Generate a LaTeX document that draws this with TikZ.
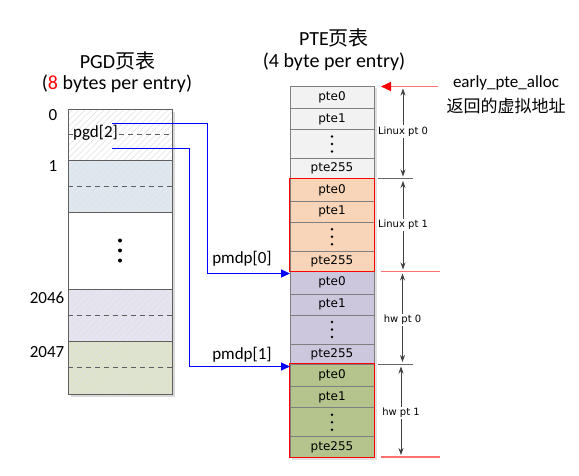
\documentclass[tikz,border=0pt]{standalone}
\usepackage{fontspec}
\setmainfont{Carlito}
\newfontfamily\dejavu{DejaVu Sans}
\newfontfamily\cjk{Noto Sans CJK SC}
\usetikzlibrary{arrows.meta,patterns.meta}
\definecolor{pteA}{HTML}{F2F2F2}
\definecolor{pteB}{HTML}{F8D5B8}
\definecolor{pteC}{HTML}{CDC7DE}
\definecolor{pteD}{HTML}{B4C48C}
\definecolor{pgdA}{HTML}{FFFFFF}
\definecolor{pgdB}{HTML}{DFE8F0}
\definecolor{pgdC}{HTML}{E6E4F0}
\definecolor{pgdD}{HTML}{DEE3CC}
\definecolor{rowline}{HTML}{7F7F7F}
\definecolor{pgdline}{HTML}{5F5F5F}
\definecolor{lightred}{HTML}{FF7070}
\definecolor{dimcol}{HTML}{404040}
\definecolor{linkblue}{HTML}{0000FF}
\tikzset{
  title/.style={font=\fontsize{20}{24}\selectfont, inner sep=0pt},
  lbl/.style={font=\fontsize{17}{20}\selectfont, inner sep=0pt},
  pterow/.style={draw=rowline, line width=0.8pt, minimum width=84pt, inner sep=0pt,
    font=\dejavu\fontsize{12}{14}\selectfont},
  pgdrow/.style={draw=pgdline, line width=0.8pt, minimum width=104pt, inner sep=0pt,
    preaction={fill=#1}, pattern={Lines[angle=45,distance=4.5pt,line width=0.5pt]},
    pattern color=black!12},
  midline/.style={draw=pgdline, line width=0.8pt, dash pattern=on 5pt off 4pt},
  side/.style={font=\dejavu\fontsize{10}{12}\selectfont, fill=white, inner sep=1.5pt},
  dimarrow/.style={draw=dimcol, line width=0.7pt, {Stealth[length=7pt,width=5pt]}-{Stealth[length=7pt,width=5pt]}},
  bluelink/.style={draw=linkblue, line width=1.2pt, -{Triangle[length=9pt,width=8pt]}},
  tickgray/.style={draw=dimcol!80, line width=0.7pt},
  tickred/.style={draw=lightred, line width=1.2pt}
}
\begin{document}
\begin{tikzpicture}[x=1pt,y=-1pt]
\useasboundingbox (0,0) rectangle (579,475);

% ---------- titles ----------
\node[title] (pgdt) at (117.5,61) {PGD{\cjk 页表}};
\node[title] (pgds) at (117,84) {(\textcolor{red}{8} bytes per entry)};
\node[title] (ptet) at (334,38) {PTE{\cjk 页表}};
\node[title] (ptes) at (334,62) {(4 byte per entry)};

% ---------- PGD table ----------
\fill[black!15] (71,112) rectangle (175,397);
\node[pgdrow=pgdA, minimum height=51.5pt] (p0) at (120,134.75) {};
\node[pgdrow=pgdB, minimum height=52pt] (p1) at (120,186.5) {};
\node[draw=pgdline, line width=0.8pt, fill=white, minimum width=104pt, minimum height=77pt, inner sep=0pt] (pm) at (120,251) {};
\node[pgdrow=pgdC, minimum height=52pt] (p2046) at (120,315.5) {};
\node[pgdrow=pgdD, minimum height=52.5pt] (p2047) at (120,367.75) {};
\draw[midline] (p0.west) -- ++(5,0);
\draw[midline] (119,134.75) -- (p0.east);
\draw[midline] (p1.west) -- (p1.east);
\draw[midline] (p2046.west) -- (p2046.east);
\draw[midline] (p2047.west) -- (p2047.east);
\foreach \yy in {240.5,250.5,260.5} \fill (pm.center |- 0,\yy) circle (2pt);
\node[lbl] (pgd2) at (95.5,133) {pgd[2]};
\node[lbl] (l0) at (53,115) {0};
\node[lbl] (l1) at (53,166.5) {1};
\node[lbl] (l2046) at (47,298) {2046};
\node[lbl] (l2047) at (47,352) {2047};

% ---------- PTE table ----------
\fill[black!12] (292,459.5) rectangle (376.5,88);
\foreach \g/\top/\col in {1/86/pteA, 2/178.75/pteB, 3/271.5/pteC, 4/364.25/pteD} {
  \node[pterow, fill=\col, minimum height=22.5pt] (g\g-0) at (332,\top+11.25) {pte0};
  \node[pterow, fill=\col, minimum height=21pt] (g\g-1) at (332,\top+33) {pte1};
  \node[pterow, fill=\col, minimum height=29pt] (g\g-d) at (332,\top+58) {};
  \node[pterow, fill=\col, minimum height=20.25pt] (g\g-255) at (332,\top+82.625) {pte255};
  \fill (g\g-d.center) ++(0,-7.5) circle (1.4pt) ++(0,7.5) circle (1.4pt) ++(0,7.5) circle (1.4pt);
}
\draw[red, line width=1pt] (g2-0.north west) rectangle (g2-255.south east);
\draw[red, line width=1pt] (g4-0.north west) rectangle (g4-255.south east);

% ---------- blue links ----------
\coordinate (s0) at (112,123.5);
\coordinate (s1) at (112,148.5);
\coordinate (t0) at (290,273.5);
\coordinate (t1) at (290,366.5);
\draw[bluelink] (s0) -| (207.5,273.5) -- (t0);
\draw[bluelink] (s1) -| (189.5,366.5) -- (t1);
\node[lbl] (pm0) at (242,258.5) {pmdp[0]};
\node[lbl] (pm1) at (242,355) {pmdp[1]};

% ---------- right annotations ----------
\coordinate (ea) at (438,86.5);
\draw[draw=lightred, line width=1.5pt, -{Triangle[length=10pt,width=9pt,color=red]}] (ea) -- (381,86.5);
\node[lbl] (eat) at (506,83) {early\_pte\_alloc};
\node[lbl] (eac) at (506,106) {\cjk 返回的虚拟地址};

\draw[tickgray] (378,178.75) -- (413,178.75);
\draw[tickred] (381,271.5) -- (440,271.5);
\draw[tickgray] (378,364.25) -- (413,364.25);
\draw[tickred] (381,457) -- (440,457);

\draw[dimarrow] (403,88.5) -- (403,176.5);
\draw[dimarrow] (403,181) -- (403,269.5);
\draw[dimarrow] (402.5,273.5) -- (402.5,362);
\draw[dimarrow] (401,366.5) -- (401,455);
\node[side] (lp0) at (403,131.5) {Linux pt 0};
\node[side] (lp1) at (403,225) {Linux pt 1};
\node[side] (hp0) at (402.5,320) {hw pt 0};
\node[side] (hp1) at (401,413) {hw pt 1};
\end{tikzpicture}
\end{document}
